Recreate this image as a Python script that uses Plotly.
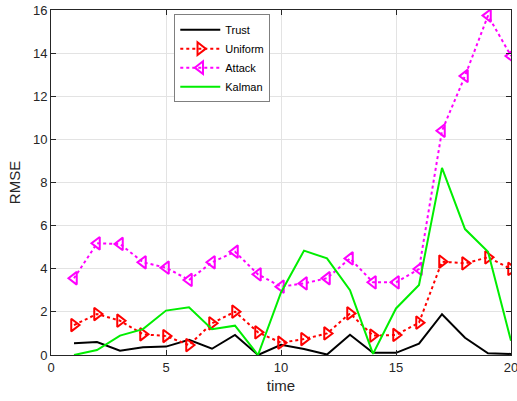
import plotly.graph_objects as go

time = list(range(1, 21))
trust = [0.54, 0.60, 0.20, 0.36, 0.39, 0.70, 0.29, 0.93, 0.0, 0.47,
         0.28, 0.02, 0.94, 0.10, 0.10, 0.53, 1.89, 0.80, 0.08, 0.05]
uniform = [1.39, 1.90, 1.59, 0.96, 0.88, 0.46, 1.47, 2.01, 1.05, 0.57,
           0.74, 1.00, 1.93, 0.90, 0.93, 1.50, 4.33, 4.25, 4.53, 3.99]
attack = [3.56, 5.18, 5.15, 4.30, 4.05, 3.48, 4.30, 4.79, 3.74, 3.17,
          3.32, 3.56, 4.48, 3.37, 3.37, 3.99, 10.40, 12.94, 15.74, 13.87]
kalman = [0.0, 0.23, 0.90, 1.20, 2.06, 2.21, 1.20, 1.36, 0.0, 2.90,
          4.84, 4.48, 3.01, 0.05, 2.16, 3.25, 8.68, 5.84, 4.79, 0.66]

fig = go.Figure()
fig.add_trace(go.Scatter(x=time, y=trust, name="Trust", mode="lines",
                         line=dict(color="black", width=2)))
fig.add_trace(go.Scatter(x=time, y=uniform, name="Uniform", mode="lines+markers",
                         line=dict(color="red", width=2, dash="dot"),
                         marker=dict(symbol="triangle-right-open", size=11,
                                     color="red", line=dict(width=2, color="red"))))
fig.add_trace(go.Scatter(x=time, y=attack, name="Attack", mode="lines+markers",
                         line=dict(color="#ff00ff", width=2, dash="dot"),
                         marker=dict(symbol="triangle-left-open", size=11,
                                     color="#ff00ff", line=dict(width=2, color="#ff00ff"))))
fig.add_trace(go.Scatter(x=time, y=kalman, name="Kalman", mode="lines",
                         line=dict(color="#00ee00", width=2)))

axis_common = dict(
    showline=True, linecolor="#262626", linewidth=1, mirror="ticks",
    ticks="inside", ticklen=5, tickcolor="#262626",
    showgrid=True, gridcolor="#e3e3e3", gridwidth=1, zeroline=False,
    ticklabeloverflow="allow", automargin=False,
    tickfont=dict(family="Arial, Liberation Sans", size=13, color="#262626"),
)

fig.update_layout(
    width=517, height=401,
    margin=dict(l=51, r=6, t=10, b=46, autoexpand=False),
    paper_bgcolor="white", plot_bgcolor="white",
    font=dict(family="Arial, Liberation Sans", color="#262626"),
    xaxis=dict(range=[0, 20], tickvals=[0, 5, 10, 15, 20],
               title=dict(text="time", font=dict(size=15), standoff=6), **axis_common),
    yaxis=dict(range=[0, 16], tickvals=list(range(0, 17, 2)),
               title=dict(text="RMSE", font=dict(size=15), standoff=8), **axis_common),
    legend=dict(x=0.268, y=0.988, xanchor="left", yanchor="top",
                bgcolor="white", bordercolor="#7f7f7f", borderwidth=1,
                font=dict(size=11, color="black"), tracegroupgap=0,
                itemwidth=40),
    showlegend=True,
)

fig.write_html("out.html")
